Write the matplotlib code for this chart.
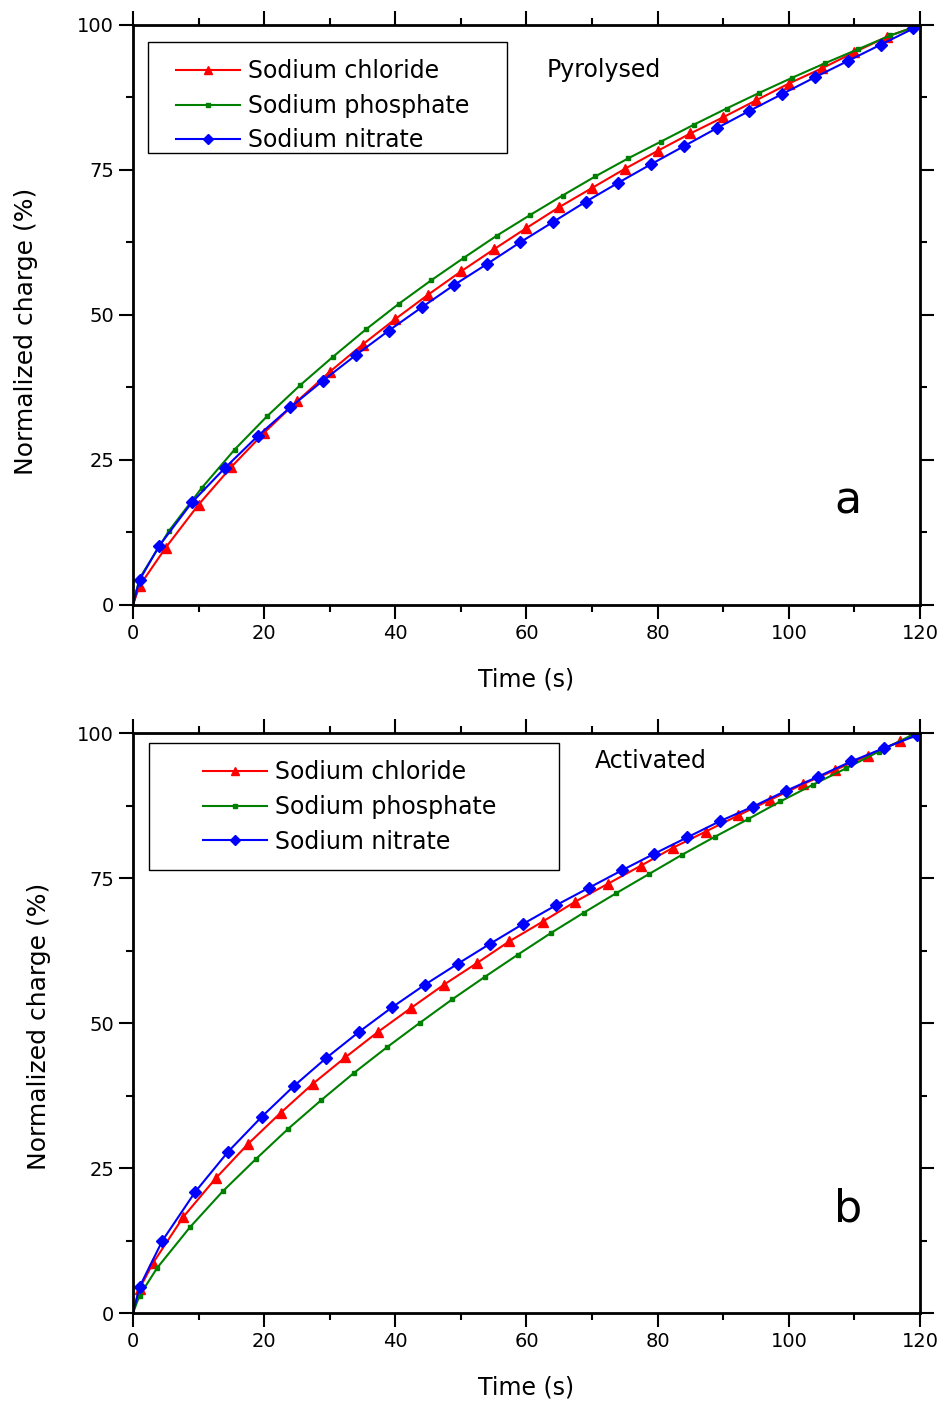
import numpy as np
import matplotlib
matplotlib.use('Agg')
import matplotlib.pyplot as plt
from matplotlib.patches import Rectangle

# data (time in s, normalized charge in %)
# panel a - pyrolysed
pyr_cl_t = [0, 1, 5, 10, 15, 20, 25, 30, 35, 40, 45, 50, 55, 60, 65, 70, 75, 80, 85, 90, 95, 100, 105, 110, 115, 120]
pyr_cl_q = [0, 3.3, 9.9, 17.3, 23.8, 29.7, 35.1, 40.2, 44.9, 49.3, 53.5, 57.5, 61.3, 65.0, 68.6, 71.9, 75.2, 78.3,
            81.3, 84.1, 87.0, 89.9, 92.5, 95.3, 98.0, 100]
pyr_ph_t = [0, 1, 5.5, 10.5, 15.5, 20.5, 25.5, 30.5, 35.5, 40.5, 45.5, 50.5, 55.5, 60.5, 65.5, 70.5, 75.5, 80.5,
            85.5, 90.5, 95.5, 100.5, 105.5, 110.5, 115.5, 120]
pyr_ph_q = [0, 4.6, 12.8, 20.2, 26.8, 32.6, 37.9, 42.8, 47.5, 51.9, 56.0, 59.9, 63.7, 67.2, 70.6, 73.9, 77.0, 79.9,
            82.8, 85.6, 88.3, 90.9, 93.4, 95.8, 98.2, 100]
pyr_ni_t = [0, 1, 4, 9, 14, 19, 24, 29, 34, 39, 44, 49, 54, 59, 64, 69, 74, 79, 84, 89, 94, 99, 104, 109, 114, 119]
pyr_ni_q = [0, 4.3, 10.2, 17.7, 23.6, 29.1, 34.1, 38.7, 43.1, 47.3, 51.3, 55.2, 58.8, 62.5, 66.0, 69.5, 72.8, 76.0,
            79.1, 82.2, 85.2, 88.1, 91.0, 93.8, 96.6, 99.4]

# panel b - activated
act_cl_t = [0, 1, 3.1, 7.7, 12.6, 17.5, 22.5, 27.4, 32.4, 37.4, 42.4, 47.4, 52.4, 57.4, 62.5, 67.4, 72.4, 77.4,
            82.3, 87.3, 92.3, 97.2, 102.2, 107.0, 112.0, 117.0, 120]
act_cl_q = [0, 4.2, 8.7, 16.6, 23.2, 29.1, 34.5, 39.5, 44.1, 48.5, 52.6, 56.6, 60.3, 64.1, 67.5, 70.9, 74.0, 77.1,
            80.2, 83.0, 85.8, 88.5, 91.2, 93.6, 96.1, 98.6, 100]
act_ph_t = [0, 1, 3.7, 8.7, 13.7, 18.7, 23.7, 28.7, 33.7, 38.7, 43.7, 48.7, 53.7, 58.7, 63.7, 68.7, 73.7, 78.7,
            83.7, 88.7, 93.7, 98.7, 103.7, 108.7, 113.7, 118.7, 120]
act_ph_q = [0, 3.0, 7.8, 14.8, 21.0, 26.5, 31.8, 36.7, 41.4, 45.8, 50.0, 54.1, 58.0, 61.8, 65.5, 69.0, 72.4, 75.7,
            79.0, 82.1, 85.1, 88.2, 91.1, 93.9, 96.8, 99.6, 100]
act_ni_t = [0, 1, 4.5, 9.5, 14.5, 19.6, 24.5, 29.5, 34.5, 39.5, 44.5, 49.5, 54.5, 59.5, 64.5, 69.5, 74.5, 79.5,
            84.5, 89.5, 94.5, 99.5, 104.5, 109.5, 114.5, 119.5, 120]
act_ni_q = [0, 4.5, 12.5, 20.9, 27.8, 33.8, 39.1, 44.0, 48.5, 52.7, 56.6, 60.2, 63.7, 67.1, 70.3, 73.3, 76.3, 79.2,
            82.0, 84.8, 87.3, 90.0, 92.5, 95.1, 97.4, 99.6, 100]

labels = ['Sodium chloride', 'Sodium phosphate', 'Sodium nitrate']
colors = ['#ff0000', '#008000', '#0000ff']
markers = ['^', 's', 'D']
msizes = [7, 3.5, 6]

panels = [
    ([pyr_cl_t, pyr_ph_t, pyr_ni_t], [pyr_cl_q, pyr_ph_q, pyr_ni_q], 'Pyrolysed', 'a'),
    ([act_cl_t, act_ph_t, act_ni_t], [act_cl_q, act_ph_q, act_ni_q], 'Activated', 'b'),
]

fig = plt.figure(figsize=(9.43, 14.04), dpi=100)
ax_pos = [[0.141, 0.5691, 0.8346, 0.4131], [0.141, 0.0648, 0.8346, 0.4131]]
# legend anchor (handle start x, first row top y) and frame box (x0, y0, x1, y1), axes coords
leg_anchor = [(0.0546, 0.941), (0.089, 0.953)]
leg_box = [(0.019, 0.7793, 0.4752, 0.9707), (0.0203, 0.7638, 0.5413, 0.9828)]
name_pos = [(0.526, 0.922), (0.587, 0.952)]
ylab_pos = [(-0.136, 0.472), (-0.119, 0.495)]

for i, (ts, qs, name, letter) in enumerate(panels):
    ax = fig.add_axes(ax_pos[i])
    for t, q, lab, c, m, ms in zip(ts, qs, labels, colors, markers, msizes):
        ax.plot(t, q, color=c, marker=m, markersize=ms, linewidth=1.5, label=lab,
                markevery=list(range(1, len(t) - 1)) + ([len(t) - 1] if t[-1] < 120 else []))
    ax.set_xlim(0, 120)
    ax.set_ylim(0, 100)
    ax.set_xticks(np.arange(0, 121, 20))
    ax.set_xticks(np.arange(0, 121, 10), minor=True)
    ax.set_yticks(np.arange(0, 101, 25))
    ax.set_yticks(np.arange(0, 101, 12.5), minor=True)
    ax.tick_params(which='both', direction='out', top=True, right=True, width=1.5, labelsize=14)
    ax.tick_params(which='major', length=10)
    ax.tick_params(which='minor', length=5)
    for s in ax.spines.values():
        s.set_linewidth(2)
    ax.set_xlabel('Time (s)', fontsize=17)
    ax.set_ylabel('Normalized charge (%)', fontsize=18)
    ax.xaxis.set_label_coords(0.5, -0.129)
    ax.xaxis.label.set_va('center')
    ax.yaxis.set_label_coords(*ylab_pos[i])
    ax.yaxis.label.set_va('center')

    # legend without frame, frame drawn as a separate box
    leg = ax.legend(loc='upper left', bbox_to_anchor=leg_anchor[i], fontsize=17, frameon=False,
                    handlelength=2.7, handletextpad=0.35, labelspacing=0.45, borderpad=0,
                    borderaxespad=0, markerscale=0.85)
    x0, y0, x1, y1 = leg_box[i]
    ax.add_patch(Rectangle((x0, y0), x1 - x0, y1 - y0, transform=ax.transAxes, fill=False,
                           edgecolor='black', linewidth=1, zorder=5))
    ax.text(name_pos[i][0], name_pos[i][1], name, transform=ax.transAxes, fontsize=17,
            ha='left', va='center')
    ax.text(0.9085, 0.18, letter, transform=ax.transAxes, fontsize=32, ha='center', va='center')

plt.savefig('out.png', dpi=100)
plt.close()
